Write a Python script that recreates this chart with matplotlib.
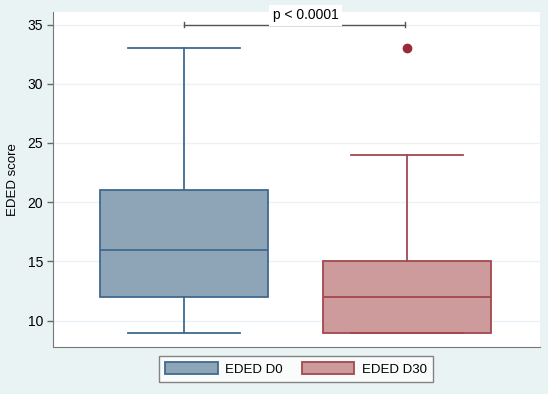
import matplotlib.pyplot as plt

plt.rcParams['font.family'] = ['Liberation Sans', 'DejaVu Sans']

labels = ["EDED D0", "EDED D30"]
mins = [9, 9]
q1s = [12, 9]
medians = [16, 12]
q3s = [21, 15]
maxs = [33, 24]
outliers = [[], [33]]
p_text = "p < 0.0001"

fills = ["#8DA5B6", "#CE9B9D"]
edges = ["#3F6A8E", "#A4474F"]
outlier_color = "#9A2A35"
bg = "#EAF3F3"

fig = plt.figure(figsize=(5.48, 3.94), dpi=100, facecolor=bg)
ax = fig.add_axes([53 / 548, 1 - 347 / 394, 487 / 548, 335.5 / 394])
ax.set_facecolor("white")

stats = []
for i in range(2):
    stats.append(dict(med=medians[i], q1=q1s[i], q3=q3s[i],
                      whislo=mins[i], whishi=maxs[i], fliers=outliers[i]))

for i in range(2):
    ax.bxp([stats[i]], positions=[i + 1], widths=0.75, patch_artist=True,
           boxprops=dict(facecolor=fills[i], edgecolor=edges[i], linewidth=1.3),
           medianprops=dict(color=edges[i], linewidth=1.3),
           whiskerprops=dict(color=edges[i], linewidth=1.3),
           capprops=dict(color=edges[i], linewidth=1.3),
           capwidths=0.5,
           flierprops=dict(marker='o', markerfacecolor=outlier_color,
                           markeredgecolor=outlier_color, markersize=6),
           zorder=3)

ax.set_xlim(0.4126, 2.596)
ax.set_ylim(7.78, 36.1)
ax.set_yticks([10, 15, 20, 25, 30, 35])
ax.set_xticks([])
ax.yaxis.grid(True, color="#EAF2F8", linewidth=1.0)
ax.set_axisbelow(True)
ax.tick_params(axis='y', direction='out', length=4, width=1, color="#666666",
               labelsize=10, pad=3)
ax.spines['top'].set_visible(False)
ax.spines['right'].set_visible(False)
ax.spines['left'].set_color("#777777")
ax.spines['bottom'].set_color("#777777")
ax.set_ylabel("EDED score", fontsize=9.5, labelpad=6)

# significance bracket
ax.plot([1, 1.99], [35, 35], color="#555555", linewidth=1.0, zorder=4)
ax.plot([1, 1], [34.8, 35.2], color="#555555", linewidth=1.0, zorder=4)
ax.plot([1.99, 1.99], [34.8, 35.2], color="#555555", linewidth=1.0, zorder=4)
ax.text(1.545, 35.2, p_text, ha='center', va='bottom', fontsize=10,
        bbox=dict(facecolor='white', edgecolor='none', pad=2.5), clip_on=False,
        zorder=5)

handles = [plt.Rectangle((0, 0), 1, 1, facecolor=fills[i], edgecolor=edges[i],
                         linewidth=1.3) for i in range(2)]
leg = fig.legend(handles, labels, loc='center', bbox_to_anchor=(296 / 548, 1 - 369 / 394),
                 ncol=2, fontsize=9.5, frameon=True, fancybox=False,
                 handlelength=4.0, handleheight=1.0, columnspacing=1.4,
                 borderpad=0.5, borderaxespad=0, handletextpad=0.55)
leg.get_frame().set_edgecolor("#666666")
leg.get_frame().set_linewidth(1.0)

fig.savefig("out.png", dpi=100, facecolor=bg)
